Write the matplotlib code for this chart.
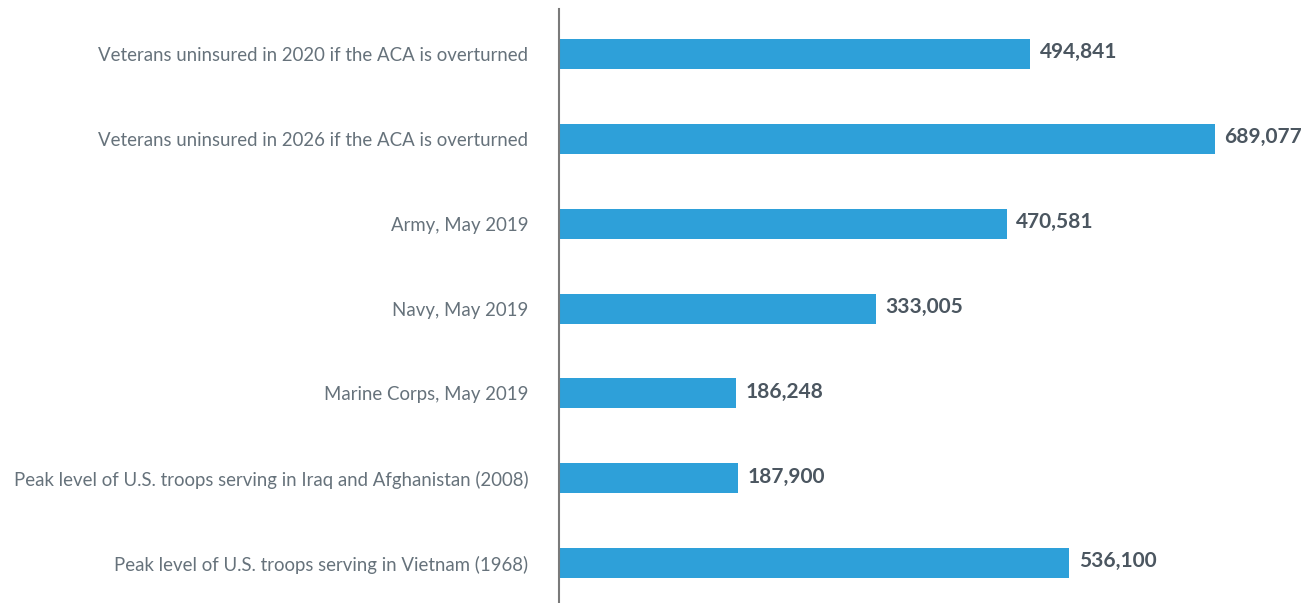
import matplotlib
matplotlib.use("Agg")
import matplotlib.pyplot as plt

categories = [
    "Veterans uninsured in 2020 if the ACA is overturned",
    "Veterans uninsured in 2026 if the ACA is overturned",
    "Army, May 2019",
    "Navy, May 2019",
    "Marine Corps, May 2019",
    "Peak level of U.S. troops serving in Iraq and Afghanistan (2008)",
    "Peak level of U.S. troops serving in Vietnam (1968)",
]
values = [494841, 689077, 470581, 333005, 186248, 187900, 536100]

fig = plt.figure(figsize=(13.1, 6.03), dpi=100)
ax = fig.add_axes([559 / 1310, 0, 751 / 1310, 594 / 603])

pos = list(range(len(categories)))
ax.barh(pos, values, height=0.354, color="#2EA0D9", zorder=2)
ax.set_xlim(0, 789000)
ax.set_ylim(6.47, -0.53)

for p, v in zip(pos, values):
    ax.text(v + 10000, p - 0.02, f"{v:,}", va="center", ha="left",
            fontsize=15, fontweight="bold", color="#4B5660", family="Lato")

ax.set_yticks(pos)
ax.set_yticklabels(categories, fontsize=13.45, color="#66727B", family="Lato", fontweight="normal")
ax.tick_params(axis="y", length=0, pad=22)
ax.set_xticks([])
for s in ["top", "right", "bottom"]:
    ax.spines[s].set_visible(False)
ax.spines["left"].set_color("#7A7A7A")
ax.spines["left"].set_linewidth(1.5)

fig.savefig("out.png", dpi=100)
